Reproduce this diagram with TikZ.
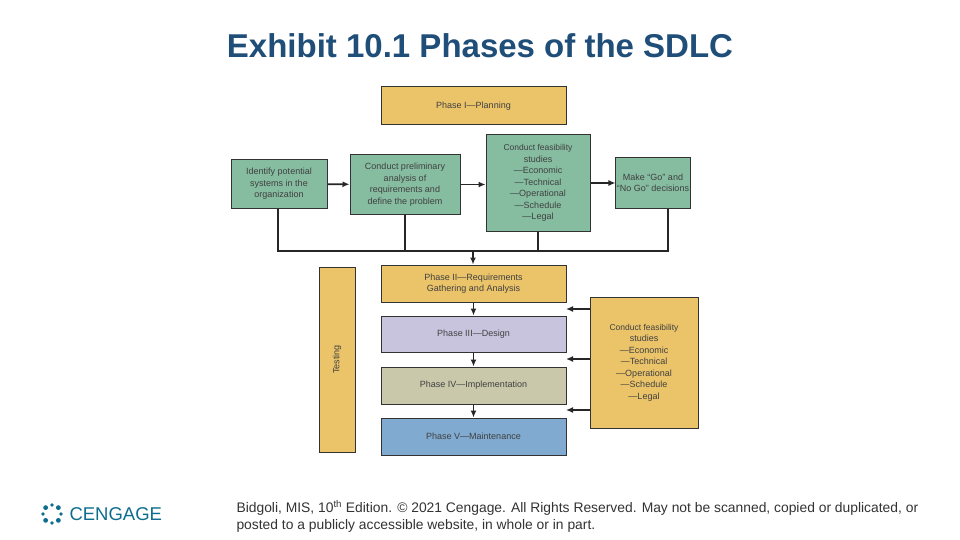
\documentclass[tikz,border=0pt]{standalone}
\usepackage{fontspec}
\setmainfont{Liberation Sans}
\usetikzlibrary{arrows.meta}
\definecolor{yel}{HTML}{EBC46A}
\definecolor{grn}{HTML}{86BCA0}
\definecolor{pur}{HTML}{C9C4DE}
\definecolor{olv}{HTML}{C9C8AA}
\definecolor{blu}{HTML}{80AAD0}
\definecolor{ttl}{HTML}{1F4E79}
\definecolor{teal}{HTML}{0E6D8E}
\begin{document}
\begin{tikzpicture}[x=1pt,y=-1pt,
  bx/.style={draw=black!80,line width=1pt,align=center,font=\fontsize{9}{11.5}\selectfont,text=black!75,inner sep=1pt},
  ln/.style={line width=1.8pt,black!85},
  ar/.style={ln,-{Latex[length=7pt,width=6pt]}}]
\useasboundingbox (0,0) rectangle (960,540);
\fill[white] (0,0) rectangle (960,540);
\node[font=\bfseries\fontsize{33}{36}\selectfont,text=ttl] (title) at (480,46) {Exhibit 10.1 Phases of the SDLC};
\newcommand\bxnode[6]{\node[bx,fill=#6,minimum width={#3-#1},minimum height={#4-#2}] (#5) at ({(#1+#3)/2},{(#2+#4)/2})}
\bxnode{381}{87}{566}{125}{p1}{yel} {Phase I---Planning};
\bxnode{231}{160}{327}{208}{id}{grn} {Identify potential\\systems in the\\organization};
\bxnode{350}{155}{460}{214}{pre}{grn} {Conduct preliminary\\analysis of\\requirements and\\define the problem};
\bxnode{486}{135}{590}{231}{fs}{grn} {\fontsize{8.5}{11.2}\selectfont Conduct feasibility\\studies\\---Economic\\---Technical\\---Operational\\---Schedule\\---Legal};
\bxnode{616}{158}{690}{208}{go}{grn} {Make ``Go'' and\\``No Go'' decisions};
\bxnode{381}{265}{566}{302}{p2}{yel} {Phase II---Requirements\\Gathering and Analysis};
\bxnode{381}{316}{566}{352}{p3}{pur} {Phase III---Design};
\bxnode{381}{367}{566}{404}{p4}{olv} {Phase IV---Implementation};
\bxnode{381}{418}{566}{455}{p5}{blu} {Phase V---Maintenance};
\bxnode{319}{267}{355}{452}{tst}{yel} {};
\node[rotate=90,font=\fontsize{9}{11}\selectfont,text=black!75] (tl) at (tst.center) {Testing};
\bxnode{590}{297}{698}{428}{fs2}{yel} {\fontsize{8.5}{14}\selectfont Conduct feasibility\\studies\\---Economic\\---Technical\\---Operational\\---Schedule\\---Legal};
\draw[ar] (id) -- (pre);
\draw[ar] (pre) -- (pre -| fs.west);
\draw[ar] (fs.east |- go) -- (go);
\coordinate (bl) at (278,251); \coordinate (br) at (668,251); \coordinate (bm) at (473,251);
\draw[ln] (id.south -| bl) -- (bl) -- (br) -- (go.south -| br);
\draw[ln] (pre.south -| 405,0) -- (405,251);
\draw[ln] (fs.south -| 538,0) -- (538,251);
\draw[ar] (bm) -- (p2.north -| bm);
\draw[ar] (p2) -- (p3);
\draw[ar] (p3) -- (p4);
\draw[ar] (p4) -- (p5);
\coordinate (a1) at (566,309); \coordinate (a2) at (566,359); \coordinate (a3) at (566,410);
\draw[ar] (fs2.west |- a1) -- (a1);
\draw[ar] (fs2.west |- a2) -- (a2);
\draw[ar] (fs2.west |- a3) -- (a3);
% logo
\foreach \a/\r in {0/1.8,45/2.4,90/1.8,135/2.4,180/1.8,225/2.4,270/1.8,315/2.4}
  \fill[teal] ({52+9*cos(\a)},{514-9*sin(\a)}) circle (\r);
\node[anchor=west,font=\fontsize{18.5}{20}\selectfont,text=teal] (cg) at (66,514) {CENGAGE};
\node[anchor=north west,align=left,font=\fontsize{13.85}{17}\selectfont,text=black!80] (ft) at (233,497) {Bidgoli, MIS, 10\textsuperscript{th} Edition. © 2021 Cengage. All Rights Reserved. May not be scanned, copied or duplicated, or\\posted to a publicly accessible website, in whole or in part.};
\end{tikzpicture}
\end{document}
